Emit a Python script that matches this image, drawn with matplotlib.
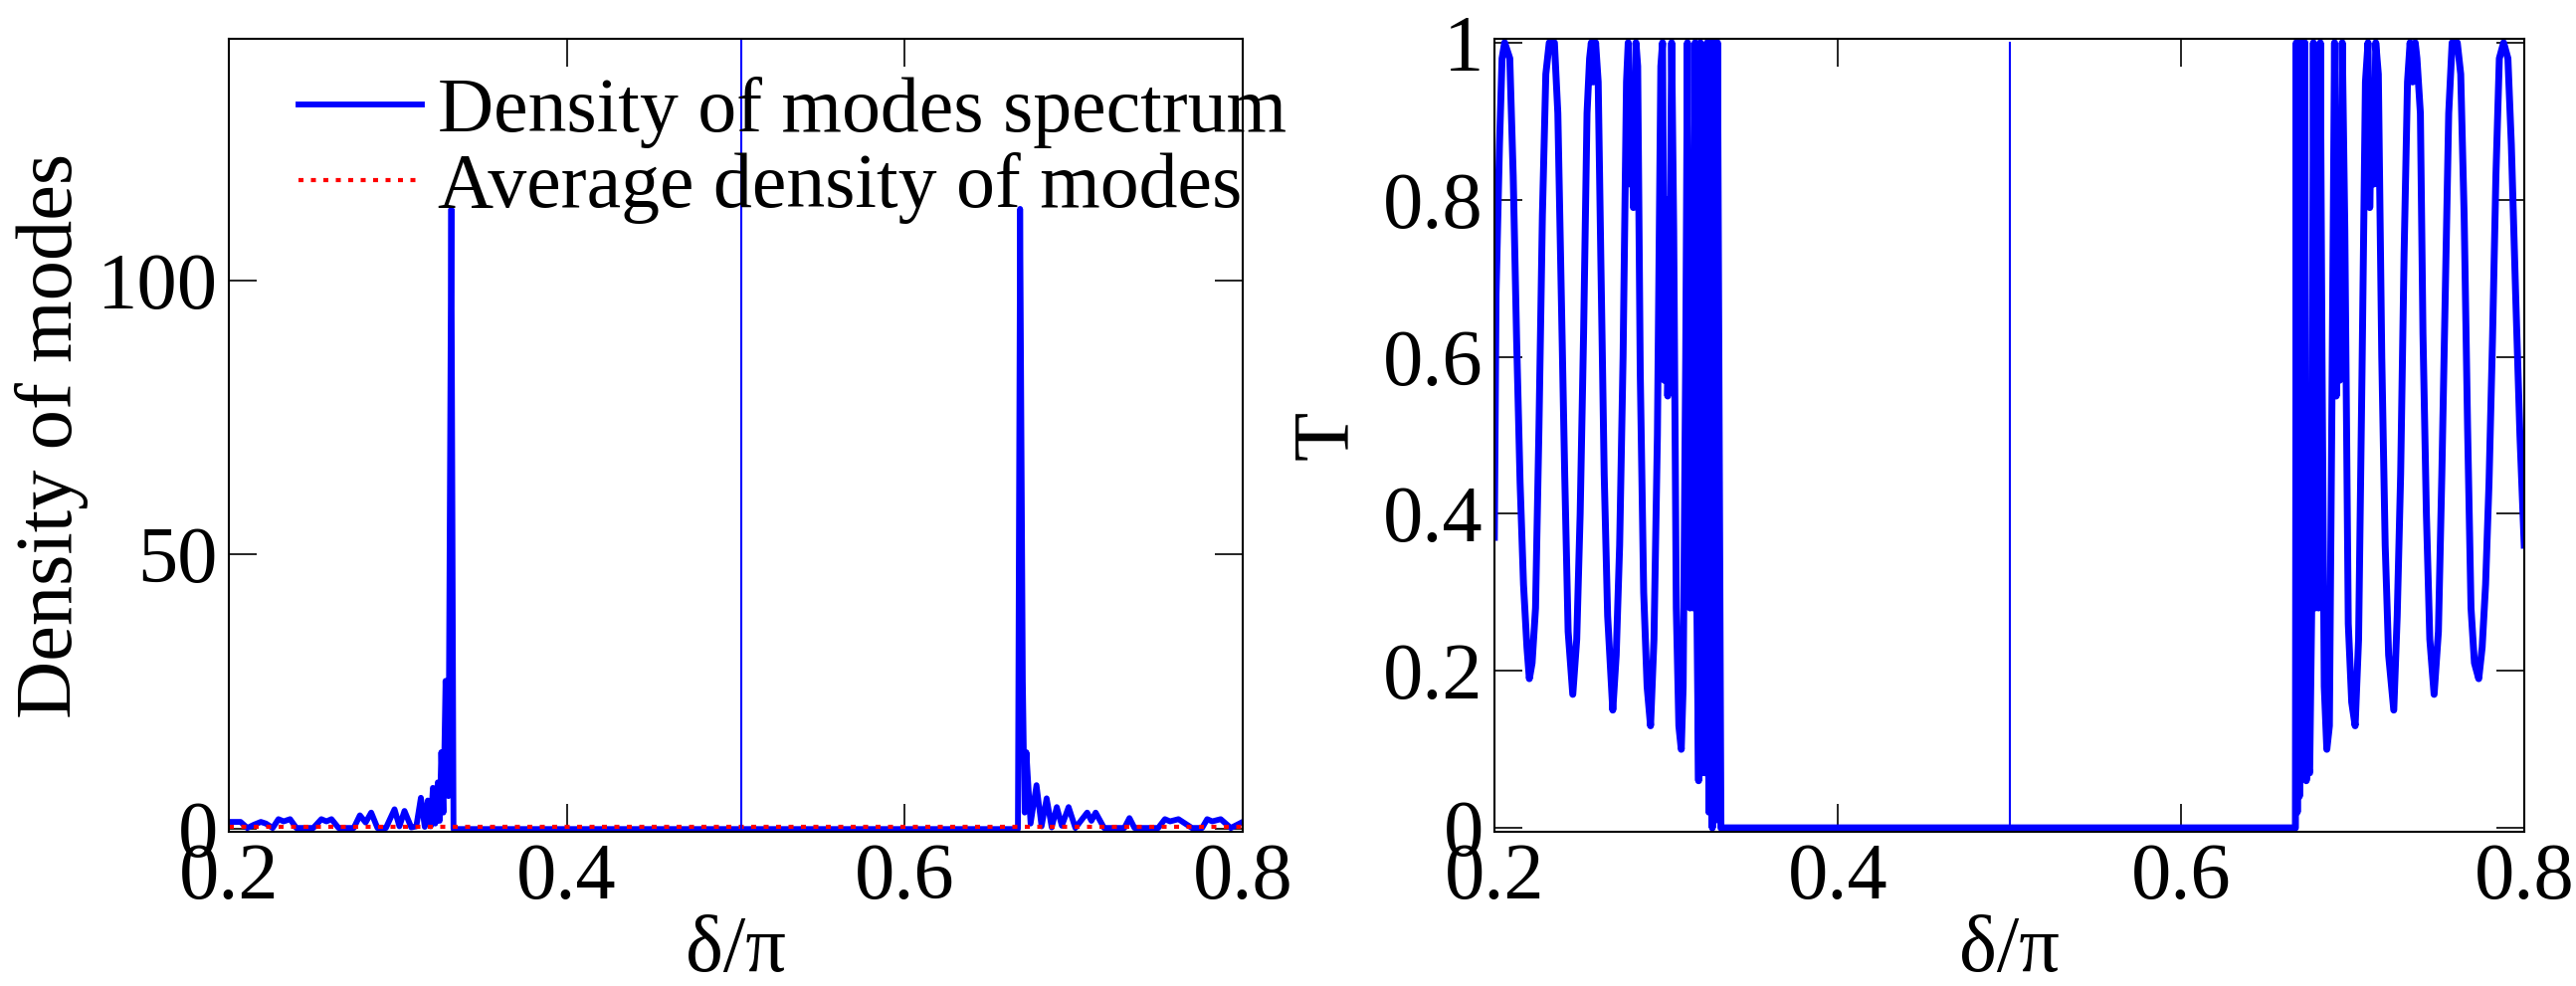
import matplotlib
matplotlib.use("Agg")
import matplotlib.pyplot as plt

plt.rcParams.update({
    "font.family": "Liberation Serif",
    "font.size": 58,
    "mathtext.fontset": "stix",
})

BLUE = "#0000ff"
RED = "#ff0000"

# ---- Left panel: density of modes (delta/pi, value) ----
dos_x = [0.200, 0.207, 0.211, 0.215, 0.219, 0.222, 0.226, 0.2294, 0.2325, 0.2363, 0.2400,
         0.2450, 0.2500, 0.2548, 0.2578, 0.2608, 0.2650, 0.2700, 0.2740, 0.2776, 0.2810,
         0.2843, 0.2880, 0.2930, 0.2981, 0.3010, 0.3040, 0.3080, 0.3110, 0.3137, 0.3160,
         0.3178, 0.3195, 0.3208, 0.3222, 0.3237, 0.3248, 0.3258, 0.3270, 0.3283, 0.3300,
         0.3317, 0.3330,
         0.6670, 0.6683, 0.6699, 0.6710, 0.6720, 0.6745, 0.6780, 0.6810, 0.6840, 0.6870,
         0.6900, 0.6930, 0.6970, 0.7010, 0.7080, 0.7105, 0.7130, 0.7180, 0.7250, 0.7300,
         0.7330, 0.7360, 0.7420, 0.7500, 0.7540, 0.7570, 0.7620, 0.7700, 0.7760, 0.7790,
         0.7820, 0.7870, 0.7930, 0.8000]
dos_y = [1.3, 1.3, 0.2, 0.8, 1.3, 1.0, 0.2, 1.8, 1.4, 1.8, 0.2,
         0.2, 0.2, 1.8, 1.4, 1.8, 0.2, 0.2, 0.2, 2.5, 1.2,
         3.0, 0.2, 0.2, 3.6, 0.5, 3.3, 0.3, 0.5, 5.7, 0.4,
         5.2, 0.5, 7.5, 1.0, 8.5, 1.5, 14.0, 3.0, 27.0, 6.0,
         113.0, 0.0,
         0.0, 113.0, 27.0, 3.0, 14.0, 1.0, 8.0, 0.5, 5.6, 0.3,
         4.0, 0.6, 4.0, 0.2, 3.0, 1.5, 3.0, 0.2, 0.2, 0.2,
         2.0, 0.2, 0.2, 0.2, 1.8, 1.4, 1.8, 0.2, 0.2, 1.8,
         1.4, 1.8, 0.2, 1.3]
dos_avg = 0.35
left_ticks_y = [0, 50, 100]
marker_x_left = 0.503

# ---- Right panel: transmission T ----
t_x = [0.2000, 0.2010, 0.2030, 0.2045, 0.2060, 0.2090, 0.2110, 0.2130, 0.2150, 0.2170,
       0.2190, 0.2204, 0.2220, 0.2240, 0.2260, 0.2280, 0.2300, 0.2320, 0.2350, 0.2370,
       0.2390, 0.2410, 0.2430, 0.2457, 0.2480, 0.2500, 0.2520, 0.2540, 0.2555, 0.2565,
       0.2575, 0.2590, 0.2605, 0.2620, 0.2640, 0.2660, 0.2690, 0.2710, 0.2730, 0.2750,
       0.2770, 0.2780, 0.2790, 0.2800, 0.2810, 0.2825, 0.2835, 0.2850, 0.2870, 0.2890,
       0.2910, 0.2930, 0.2950, 0.2970, 0.2980, 0.2990, 0.3000, 0.3010, 0.3020, 0.3033,
       0.3045, 0.3060, 0.3075, 0.3089, 0.3100, 0.3115, 0.3125, 0.3140, 0.3150, 0.3160,
       0.3170, 0.3180, 0.3190, 0.3200, 0.3210, 0.3220, 0.3230, 0.3240, 0.3250, 0.3260,
       0.3270, 0.3280, 0.3290, 0.3300, 0.3320, 0.3333,
       0.6667, 0.6672, 0.6678, 0.6684, 0.6690, 0.6700, 0.6708, 0.6716, 0.6722, 0.6730,
       0.6740, 0.6750, 0.6762, 0.6772, 0.6782, 0.6792, 0.6802, 0.6812, 0.6822, 0.6835,
       0.6850, 0.6865, 0.6880, 0.6895, 0.6905, 0.6915, 0.6925, 0.6940, 0.6955, 0.6975,
       0.6995, 0.7015, 0.7035, 0.7055, 0.7075, 0.7090, 0.7100, 0.7115, 0.7125, 0.7135,
       0.7150, 0.7170, 0.7190, 0.7210, 0.7240, 0.7260, 0.7280, 0.7300, 0.7320, 0.7335,
       0.7350, 0.7365, 0.7375, 0.7395, 0.7410, 0.7430, 0.7450, 0.7475, 0.7500, 0.7520,
       0.7540, 0.7560, 0.7580, 0.7610, 0.7630, 0.7650, 0.7670, 0.7690, 0.7710, 0.7735,
       0.7755, 0.7775, 0.7795, 0.7815, 0.7835, 0.7855, 0.7880, 0.7905, 0.7925, 0.7950,
       0.7975, 0.8000]
t_y = [0.37, 0.68, 0.87, 0.98, 1.00, 0.98, 0.83, 0.62, 0.44, 0.31,
       0.23, 0.19, 0.21, 0.28, 0.51, 0.78, 0.96, 1.00, 1.00, 0.91,
       0.68, 0.45, 0.25, 0.17, 0.24, 0.40, 0.63, 0.91, 0.98, 1.00,
       0.95, 1.00, 0.95, 0.73, 0.45, 0.27, 0.15, 0.22, 0.36, 0.60,
       0.95, 1.00, 0.82, 0.95, 0.79, 1.00, 0.97, 0.58, 0.30, 0.18,
       0.13, 0.24, 0.50, 0.97, 1.00, 0.57, 0.80, 0.55, 0.63, 1.00,
       0.76, 0.28, 0.13, 0.10, 0.18, 0.60, 1.00, 0.28, 0.77, 0.28,
       1.00, 0.28, 0.06, 1.00, 0.07, 0.53, 0.07, 1.00, 0.02, 1.00,
       0.00, 1.00, 0.01, 1.00, 0.00, 0.00,
       0.00, 1.00, 0.02, 1.00, 0.04, 1.00, 0.10, 0.53, 1.00, 0.06,
       0.08, 0.07, 0.28, 1.00, 0.28, 0.77, 0.28, 1.00, 0.60, 0.18,
       0.10, 0.13, 0.55, 1.00, 0.55, 0.80, 0.57, 1.00, 0.76, 0.26,
       0.16, 0.13, 0.24, 0.58, 0.95, 1.00, 0.79, 0.95, 0.82, 1.00,
       0.96, 0.60, 0.36, 0.22, 0.15, 0.27, 0.45, 0.73, 0.95, 1.00,
       0.95, 1.00, 0.98, 0.91, 0.63, 0.40, 0.24, 0.17, 0.25, 0.45,
       0.68, 0.91, 1.00, 1.00, 0.96, 0.78, 0.51, 0.28, 0.21, 0.19,
       0.23, 0.31, 0.44, 0.62, 0.83, 0.98, 1.00, 0.98, 0.87, 0.68,
       0.50, 0.36]
right_ticks_y = [0, 0.2, 0.4, 0.6, 0.8, 1]
marker_x_right = 0.5003

x_ticks = [0.2, 0.4, 0.6, 0.8]
x_labels = ["0.2", "0.4", "0.6", "0.8"]


def style(ax):
    ax.tick_params(direction="in", length=20, width=1.2, top=True, right=True, pad=8)
    for s in ax.spines.values():
        s.set_linewidth(1.5)
    ax.set_xlim(0.2, 0.8)
    ax.set_xticks(x_ticks)
    ax.set_xticklabels(x_labels)
    ax.set_xlabel("δ/π", labelpad=0)


fig = plt.figure(figsize=(25.89, 9.91), dpi=100)

ax1 = fig.add_axes([0.0888, 0.1564, 0.3936, 0.8043])
ax1.plot(dos_x, dos_y, color=BLUE, lw=4.2, label="Density of modes spectrum")
ax1.plot([0.2, 0.8], [dos_avg, dos_avg], color=RED, lw=3.0, ls=(0, (1.2, 1.8)),
         label="Average density of modes")
ax1.plot([marker_x_left, marker_x_left], [-0.5, 144], color=BLUE, lw=1.5)
ax1.set_ylim(-0.5, 144)
ax1.set_yticks(left_ticks_y)
ax1.set_ylabel("Density of modes", labelpad=6)
style(ax1)
ax1.legend(loc="upper left", bbox_to_anchor=(0.0, 1.04), frameon=False,
           handlelength=1.6, handletextpad=0.2, labelspacing=0.05, fontsize=56)

ax2 = fig.add_axes([0.5801, 0.1564, 0.3998, 0.8043])
ax2.plot(t_x, t_y, color=BLUE, lw=5.0)
ax2.plot([marker_x_right, marker_x_right], [0, 1], color=BLUE, lw=1.5)
ax2.set_ylim(-0.005, 1.005)
ax2.set_yticks(right_ticks_y)
ax2.set_yticklabels(["0", "0.2", "0.4", "0.6", "0.8", "1"])
ax2.set_ylabel("T", labelpad=14)
style(ax2)

fig.savefig("out.png", dpi=100)
